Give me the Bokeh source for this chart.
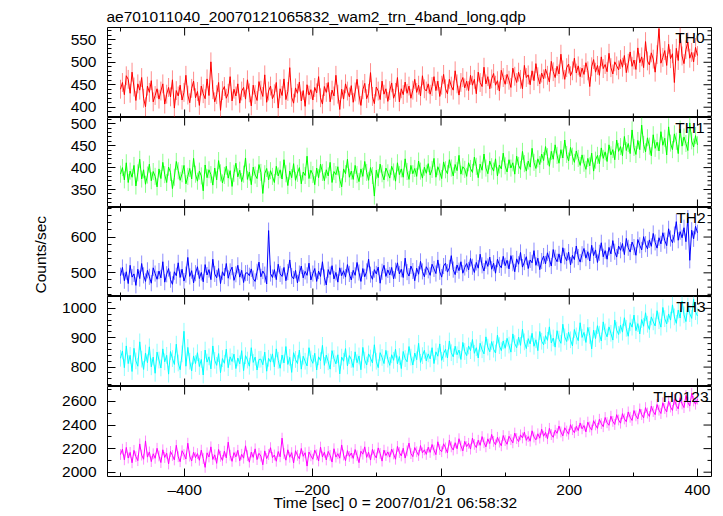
import math
from bokeh.plotting import figure
from bokeh.models import (Range1d, LinearAxis, SingleIntervalTicker, Label, Title,
                          CustomJSTickFormatter)
from bokeh.layouts import column
from bokeh.embed import file_html
from bokeh.resources import INLINE

# ---------------- data ----------------
TITLE = "ae701011040_20070121065832_wam2_trn_4band_long.qdp"
X_LABEL = "Time [sec] 0 = 2007/01/21 06:58:32"
Y_LABEL = "Counts/sec"
BANDS = ["TH0", "TH1", "TH2", "TH3", "TH0123"]
T_START = -500   # sec, first bin
T_STEP = 3       # sec, bin width

TH0 = [
    440, 455, 428, 470, 462, 431, 478, 445, 415, 452, 438, 466, 420, 401, 447, 433, 459, 412, 426, 441,
    418, 436, 452, 407, 429, 444, 423, 461, 398, 437, 425, 449, 416, 433, 471, 427, 410, 442, 458, 421,
    435, 404, 447, 430, 419, 463, 426, 501, 439, 412, 428, 455, 393, 437, 446, 420, 431, 468, 414, 440,
    425, 452, 409, 436, 444, 418, 461, 432, 403, 449, 428, 415, 457, 438, 424, 472, 411, 436, 447, 419,
    430, 455, 398, 441, 426, 463, 417, 435, 488, 422, 409, 443, 431, 456, 414, 437, 402, 450, 427, 439,
    416, 444, 432, 468, 421, 407, 446, 433, 455, 412, 438, 425, 471, 429, 395, 440, 418, 452, 436, 423,
    448, 411, 434, 462, 427, 404, 439, 453, 419, 431, 477, 424, 408, 445, 436, 417, 458, 429, 441, 413,
    437, 454, 420, 433, 466, 412, 441, 428, 456, 431, 447, 420, 438, 462, 433, 449, 425, 470, 441, 436,
    452, 429, 446, 468, 437, 458, 424, 449, 473, 441, 430, 462, 447, 438, 481, 452, 427, 455, 466, 443,
    458, 437, 471, 449, 462, 430, 478, 455, 446, 489, 452, 468, 441, 463, 475, 449, 459, 436, 482, 466,
    451, 473, 460, 444, 487, 469, 455, 478, 462, 441, 493, 466, 472, 450, 481, 459, 497, 468, 452, 476,
    463, 485, 471, 456, 502, 479, 466, 491, 474, 518, 483, 462, 488, 496, 470, 481, 509, 476, 492, 468,
    487, 473, 499, 481, 446, 490, 506, 478, 493, 471, 512, 486, 495, 479, 520, 488, 474, 501, 492, 483,
    506, 489, 515, 477, 498, 523, 491, 505, 484, 532, 499, 512, 488, 546, 503, 494, 521, 507, 478, 517,
    575, 498, 511, 526, 493, 540, 508, 519, 455, 531, 504, 562, 514, 497, 528, 545, 509, 522, 501, 533,
    515,
]
TH1 = [
    385, 400, 372, 411, 366, 392, 378, 405, 358, 388, 419, 374, 395, 362, 383, 408, 370, 391, 380, 356,
    397, 375, 412, 384, 366, 401, 389, 352, 378, 414, 393, 371, 386, 405, 363, 380, 398, 374, 421, 385,
    369, 392, 381, 347, 406, 377, 395, 384, 360, 399, 372, 416, 388, 365, 382, 403, 376, 393, 357, 387,
    410, 379, 394, 368, 385, 422, 373, 390, 361, 401, 383, 375, 407, 389, 341, 386, 398, 372, 393, 380,
    366, 403, 381, 395, 374, 418, 386, 359, 392, 377, 409, 371, 387, 400, 363, 390, 382, 426, 375, 394,
    384, 361, 399, 377, 408, 389, 370, 395, 381, 412, 366, 391, 384, 402, 373, 356, 397, 386, 419, 378,
    392, 373, 405, 384, 368, 397, 380, 414, 389, 371, 400, 382, 335, 394, 377, 408, 386, 372, 399, 388,
    376, 403, 390, 369, 411, 384, 397, 378, 420, 391, 373, 405, 386, 398, 380, 415, 392, 376, 401, 387,
    409, 383, 396, 421, 378, 402, 390, 375, 413, 395, 386, 418, 399, 381, 407, 393, 428, 385, 402, 396,
    380, 411, 398, 389, 424, 403, 377, 408, 394, 431, 399, 386, 415, 402, 392, 420, 381, 406, 397, 433,
    404, 390, 418, 399, 411, 385, 426, 405, 396, 437, 409, 392, 415, 401, 444, 412, 398, 420, 407, 431,
    416, 448, 425, 403, 437, 419, 452, 428, 410, 441, 422, 463, 430, 415, 446, 426, 412, 438, 421, 405,
    429, 410, 396, 421, 404, 433, 392, 417, 428, 409, 445, 421, 436, 414, 452, 429, 441, 418, 463, 437,
    448, 427, 471, 439, 455, 432, 486, 446, 430, 462, 441, 497, 453, 436, 468, 449, 427, 475, 444, 458,
    438, 482, 451, 467, 429, 493, 456, 441, 477, 460, 432, 488, 449, 470, 455, 439, 502, 461, 447, 473,
    452,
]
TH2 = [
    492, 515, 478, 503, 470, 521, 488, 497, 465, 510, 484, 526, 493, 476, 507, 489, 471, 514, 498, 482,
    505, 486, 531, 474, 496, 512, 481, 468, 503, 492, 528, 487, 510, 477, 495, 543, 490, 506, 472, 499,
    517, 484, 501, 475, 523, 494, 509, 481, 538, 497, 486, 512, 470, 503, 491, 526, 485, 504, 516, 479,
    496, 521, 488, 507, 473, 499, 500, 492, 511, 484, 476, 503, 530, 489, 505, 495, 469, 618, 498, 487,
    509, 481, 524, 497, 490, 515, 478, 502, 536, 491, 483, 507, 472, 498, 519, 486, 504, 493, 527, 480,
    498, 512, 476, 505, 490, 531, 487, 466, 509, 495, 520, 483, 501, 474, 514, 492, 506, 488, 523, 497,
    480, 507, 493, 529, 501, 476, 512, 489, 504, 538, 495, 482, 509, 497, 516, 471, 503, 521, 490, 508,
    494, 515, 483, 506, 528, 497, 510, 487, 541, 502, 491, 519, 505, 478, 513, 496, 532, 504, 489, 517,
    507, 493, 524, 511, 498, 536, 503, 488, 519, 527, 502, 514, 548, 509, 495, 522, 506, 531, 499, 515,
    526, 508, 540, 517, 501, 529, 513, 552, 521, 505, 534, 518, 544, 510, 527, 499, 538, 522, 514, 546,
    520, 535, 511, 548, 527, 503, 539, 524, 557, 516, 530, 545, 512, 536, 528, 562, 521, 541, 509, 533,
    547, 525, 556, 538, 519, 565, 542, 531, 553, 527, 570, 546, 534, 558, 522, 549, 537, 575, 544, 530,
    552, 568, 541, 559, 533, 577, 548, 564, 529, 556, 584, 545, 562, 538, 571, 553, 590, 559, 544, 575,
    563, 582, 551, 596, 570, 558, 586, 572, 549, 593, 577, 564, 601, 580, 567, 592, 574, 610, 585, 569,
    598, 581, 612, 590, 576, 623, 596, 584, 607, 643, 591, 615, 598, 626, 587, 653, 535, 619, 595, 630,
    612,
]
TH3 = [
    830, 855, 798, 872, 812, 840, 785, 864, 821, 803, 886, 827, 792, 848, 815, 869, 801, 834, 779, 851,
    824, 797, 862, 818, 840, 776, 853, 829, 809, 878, 814, 791, 845, 922, 803, 867, 820, 787, 838, 812,
    849, 802, 826, 773, 858, 817, 835, 794, 872, 823, 806, 846, 781, 829, 813, 861, 798, 835, 819, 844,
    795, 831, 811, 856, 788, 839, 824, 803, 866, 816, 834, 790, 826, 827, 808, 851, 786, 830, 817, 845,
    801, 862, 823, 796, 841, 814, 870, 809, 833, 782, 849, 826, 812, 858, 793, 837, 820, 804, 866, 828,
    813, 847, 790, 835, 822, 874, 806, 841, 818, 793, 856, 829, 811, 842, 777, 834, 820, 863, 804, 839,
    826, 799, 852, 815, 838, 791, 867, 824, 807, 845, 831, 814, 876, 820, 798, 849, 833, 812, 857, 827,
    806, 842, 823, 861, 811, 836, 795, 853, 829, 818, 870, 834, 807, 848, 825, 881, 816, 839, 857, 821,
    845, 828, 866, 812, 852, 837, 879, 823, 846, 861, 831, 889, 849, 835, 871, 842, 858, 826, 884, 853,
    839, 872, 856, 894, 847, 866, 831, 881, 859, 845, 903, 868, 852, 887, 861, 848, 909, 873, 856, 889,
    864, 898, 875, 851, 913, 880, 866, 902, 874, 929, 886, 863, 897, 879, 915, 871, 893, 856, 921, 888,
    876, 907, 891, 937, 882, 899, 868, 924, 895, 881, 946, 903, 887, 919, 893, 872, 928, 906, 890, 951,
    901, 918, 884, 935, 908, 862, 926, 897, 941, 912, 889, 954, 920, 903, 937, 915, 892, 960, 926, 911,
    943, 919, 968, 932, 905, 951, 936, 977, 924, 948, 913, 962, 939, 985, 946, 928, 971, 954, 940, 992,
    958, 936, 1003, 965, 947, 981, 960, 1012, 971, 949, 994, 967, 1025, 978, 955, 1008, 982, 966, 1031, 989,
    974,
]
TH0123 = [
    2150, 2195, 2105, 2210, 2120, 2168, 2080, 2185, 2132, 2098, 2240, 2145, 2110, 2265, 2128, 2172, 2090, 2156, 2118, 2203,
    2138, 2082, 2190, 2125, 2161, 2070, 2176, 2142, 2104, 2228, 2131, 2089, 2182, 2150, 2112, 2246, 2136, 2095, 2170, 2123,
    2158, 2101, 2187, 2116, 2041, 2164, 2129, 2215, 2108, 2147, 2075, 2193, 2135, 2100, 2178, 2121, 2255, 2144, 2092, 2166,
    2130, 2186, 2097, 2152, 2119, 2224, 2140, 2085, 2171, 2126, 2198, 2107, 2160, 2137, 2063, 2181, 2115, 2150, 2208, 2124,
    2146, 2093, 2175, 2131, 2289, 2158, 2102, 2190, 2127, 2166, 2078, 2182, 2143, 2113, 2201, 2135, 2165, 2052, 2171, 2139,
    2110, 2187, 2148, 2095, 2213, 2130, 2169, 2104, 2176, 2142, 2086, 2199, 2128, 2157, 2119, 2231, 2145, 2098, 2183, 2134,
    2163, 2117, 2192, 2140, 2081, 2178, 2153, 2215, 2126, 2169, 2103, 2194, 2148, 2121, 2206, 2159, 2094, 2187, 2141, 2172,
    2128, 2196, 2155, 2110, 2219, 2167, 2138, 2203, 2120, 2181, 2247, 2158, 2132, 2209, 2173, 2142, 2226, 2164, 2190, 2151,
    2212, 2168, 2235, 2187, 2149, 2258, 2192, 2174, 2241, 2206, 2163, 2272, 2215, 2188, 2250, 2199, 2284, 2223, 2181, 2262,
    2217, 2245, 2196, 2289, 2236, 2209, 2271, 2228, 2302, 2250, 2215, 2283, 2243, 2320, 2261, 2232, 2296, 2255, 2224, 2311,
    2268, 2237, 2305, 2276, 2249, 2332, 2285, 2259, 2317, 2291, 2340, 2270, 2302, 2263, 2351, 2298, 2274, 2326, 2289, 2365,
    2305, 2338, 2284, 2372, 2319, 2296, 2356, 2330, 2392, 2341, 2308, 2377, 2349, 2322, 2403, 2361, 2335, 2389, 2353, 2418,
    2368, 2396, 2342, 2425, 2384, 2357, 2437, 2401, 2372, 2449, 2412, 2386, 2464, 2420, 2398, 2475, 2431, 2405, 2488, 2443,
    2416, 2497, 2452, 2428, 2511, 2466, 2439, 2523, 2478, 2452, 2537, 2489, 2461, 2548, 2502, 2473, 2560, 2515, 2488, 2574,
    2526, 2498, 2589, 2540, 2511, 2603, 2553, 2524, 2618, 2565, 2537, 2632, 2579, 2548, 2651, 2592, 2561, 2669, 2604, 2577,
    2620,
]
ERRORS = [21, 19.5, 22.5, 28.5, 46]          # 1-sigma error per bin
SERIES = [TH0, TH1, TH2, TH3, TH0123]

X_RANGE = (-520.3, 421.9)
X_MAJOR, X_MINOR = 200, 100
Y_RANGES = [(377.1, 577.4), (308.9, 514.4), (433.9, 682.5), (733.9, 1040.4), (1963.5, 2727)]
Y_MAJOR = [50, 50, 100, 100, 200]
Y_MINOR = [10, 10, 20, 20, 100]

# ---------------- style ----------------
COLORS = ["#ff0000", "#00ff00", "#0000ff", "#00ffff", "#ff00ff"]
FONT = "Liberation Sans"
FS = "15.5px"
FRAME_W = 604
FRAME_H = [90, 90, 89, 90, 90]
LEFT_B, RIGHT_B, TOP_B, BOTTOM_B = 107, 9, 27, 38
LABEL_RIGHT = [597, 597, 598, 598, 601]
LABEL_DROP = 9.5
MAJ_LEN, MIN_LEN = 8, 4


def multiples(lo, hi, step, skip=None):
    k = math.ceil(lo / step)
    out = []
    while k * step <= hi:
        v = k * step
        if skip is None or v % skip != 0:
            out.append(v)
        k += 1
    return out


def style_text(obj):
    obj.text_font = FONT
    obj.text_font_size = FS
    obj.text_font_style = "normal"
    obj.text_color = "black"


x_range = Range1d(*X_RANGE)
figs = []
n = len(SERIES)
for k in range(n):
    vals = SERIES[k]
    err = ERRORS[k]
    t = [T_START + T_STEP * i for i in range(len(vals))]
    lo = [v - err for v in vals]
    hi = [v + err for v in vals]
    y0, y1 = Y_RANGES[k]
    first, last = k == 0, k == n - 1
    p = figure(frame_width=FRAME_W, frame_height=FRAME_H[k],
               x_range=x_range, y_range=Range1d(y0, y1),
               x_axis_type=None, y_axis_type=None,
               output_backend="svg", toolbar_location=None,
               min_border_left=LEFT_B, min_border_right=RIGHT_B,
               min_border_top=TOP_B if first else 0,
               min_border_bottom=BOTTOM_B if last else 0,
               outline_line_color="black", outline_line_width=1,
               background_fill_color="white", border_fill_color="white")

    # left axis (labelled)
    ly = LinearAxis(ticker=SingleIntervalTicker(interval=Y_MAJOR[k],
                                                num_minor_ticks=Y_MAJOR[k] // Y_MINOR[k]),
                    axis_line_color=None, major_tick_in=MAJ_LEN, major_tick_out=0,
                    minor_tick_in=MIN_LEN, minor_tick_out=0, major_label_standoff=11,
                    major_label_text_font=FONT, major_label_text_font_size=FS,
                    major_label_text_color="black")
    p.add_layout(ly, "left")

    # mirrored inward ticks on right / top / (bottom of inner panels)
    ymaj = multiples(y0, y1, Y_MAJOR[k])
    ymin = multiples(y0, y1, Y_MINOR[k], skip=Y_MAJOR[k])
    xmaj = multiples(*X_RANGE, X_MAJOR)
    xmin = multiples(*X_RANGE, X_MINOR, skip=X_MAJOR)
    for ys, ln in ((ymaj, MAJ_LEN), (ymin, MIN_LEN)):
        p.ray(x=[X_RANGE[1]] * len(ys), y=ys, length=ln, angle=math.pi,
              length_units="screen", line_color="black", line_width=1)
    for xs, ln in ((xmaj, MAJ_LEN), (xmin, MIN_LEN)):
        p.ray(x=xs, y=[y1] * len(xs), length=ln, angle=-math.pi / 2,
              length_units="screen", line_color="black", line_width=1)
        if not last:
            p.ray(x=xs, y=[y0] * len(xs), length=ln, angle=math.pi / 2,
                  length_units="screen", line_color="black", line_width=1)

    if last:
        bx = LinearAxis(ticker=SingleIntervalTicker(interval=X_MAJOR,
                                                    num_minor_ticks=X_MAJOR // X_MINOR),
                        formatter=CustomJSTickFormatter(
                            code="return tick < 0 ? '\u2013' + Math.abs(tick) : String(tick);"),
                        axis_line_color=None, major_tick_in=MAJ_LEN, major_tick_out=0,
                        minor_tick_in=MIN_LEN, minor_tick_out=0, major_label_standoff=4,
                        major_label_text_font=FONT, major_label_text_font_size=FS,
                        major_label_text_color="black")
        p.add_layout(bx, "below")
        xt = Title(text=X_LABEL, align="left", offset=166, vertical_align="top", standoff=-14)
        style_text(xt)
        p.add_layout(xt, "below")

    p.segment(t, lo, t, hi, line_color=COLORS[k], line_alpha=0.45, line_width=1)
    p.line(t, vals, line_color=COLORS[k], line_width=1)

    p.add_layout(Label(x=LABEL_RIGHT[k], y=FRAME_H[k] - LABEL_DROP, x_units="screen", y_units="screen",
                       text=BANDS[k], text_font=FONT, text_font_size=FS, text_color="black",
                       text_align="right", text_baseline="alphabetic"))
    if first:
        p.title.text = TITLE
        p.title.align = "left"
        p.title.offset = -1
        p.title.standoff = 6
        style_text(p.title)
    if k == 2:
        yt = Title(text=Y_LABEL, align="left", offset=3, standoff=37)
        style_text(yt)
        p.add_layout(yt, "left")
    figs.append(p)

layout = column(*figs, spacing=0)
with open("out.html", "w", encoding="utf-8") as f:
    f.write(file_html(layout, INLINE))
